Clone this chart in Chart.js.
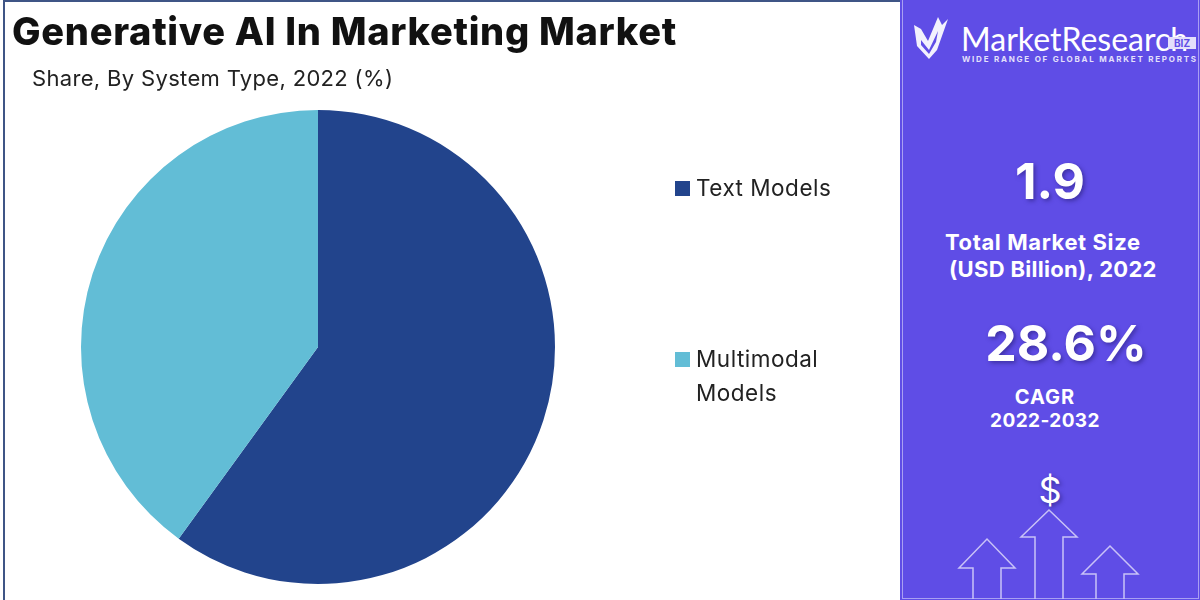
<!DOCTYPE html>
<html lang="en">
<head>
<meta charset="UTF-8">
<title>Generative AI In Marketing Market</title>
<script src="https://cdn.jsdelivr.net/npm/chart.js"></script>
<style>
    html, body { margin: 0; padding: 0; background: #fff; }
    #page { position: relative; width: 1200px; height: 600px; overflow: hidden; font-family: Inter, sans-serif; color: #111; }
    #page div.t { position: absolute; white-space: nowrap; }
    #frame { position: absolute; left: 3px; top: 0; width: 897px; height: 600px; box-sizing: border-box; border-left: 2px solid #3f5586; border-top: 2px solid #3f5586; }
    #pie { position: absolute; left: 0; top: 0; }
    #panel { position: absolute; left: 900px; top: 0; width: 300px; height: 600px; background: #5f4de6; }
    #panel-line { position: absolute; left: 902px; top: 0; width: 297px; height: 599px; box-sizing: border-box; border-left: 1px solid #a99ff2; border-bottom: 1px solid #a99ff2; border-right: 1px solid #a99ff2; }
    .swatch { position: absolute; width: 15px; height: 15px; }
    .white { color: #fff; font-weight: 700; text-align: center; }
    .big { text-shadow: 2px 2px 4px rgba(40,30,120,.6); }
    #art { position: absolute; left: 900px; top: 0; }
</style>
</head>
<body>
<div id="page">
    <div id="frame"></div>
    <canvas id="pie" width="900" height="600" style="width:900px;height:600px"></canvas>
    <div class="t" style="left:12px;top:9px;font-size:38px;font-weight:800;letter-spacing:0.7px;line-height:44px">Generative AI In Marketing Market</div>
    <div class="t" style="left:32px;top:63px;font-size:22px;letter-spacing:0.33px;line-height:30px;color:#222">Share, By System Type, 2022 (%)</div>
    <div id="legend"></div>

    <div id="panel"></div>
    <div id="panel-line"></div>
    <svg id="art" width="300" height="600" fill="none">
        <!-- logo -->
        <path d="M14 25 L21 29 L28 41 L38 17 L42 25 L48 19 L37 50 L29 59 L17 46 Z" fill="#fff" opacity=".92"/>
        <path d="M21 40 L29 50 L38 31 L36 42 L29 54 L21 45 Z" fill="#5f4de6"/>
        <!-- arrows -->
        <g stroke="#c9c2f7" stroke-width="1.5">
            <path d="M73 599 V568 H59 L87 539 L115 568 H101 V599"/>
            <path d="M135 599 V537 H121 L149 510 L177 537 H163 V599"/>
            <path d="M196 599 V574 H182 L210 546 L238 574 H224 V599"/>
        </g>
    </svg>
    <div class="t" style="left:961px;top:21px;font-family:Lato,sans-serif;font-size:32px;font-weight:400;line-height:36px;color:#fff" id="logo-text">MarketResearch</div>
    <div class="t" style="left:1168px;top:37px;width:28px;height:12px;background:#e4e0fb;color:#5f4de6;font-size:10px;font-weight:700;line-height:12px;text-align:center">BIZ</div>
    <div class="t" style="left:962px;top:54px;font-size:8px;font-weight:700;letter-spacing:1.77px;line-height:11px;color:#e4e0fb">WIDE RANGE OF GLOBAL MARKET REPORTS</div>

    <div class="t white big" style="left:950px;width:200px;top:151px;font-size:50px;line-height:60px">1.9</div>
    <div class="t white" style="left:945px;top:228px;font-size:22px;letter-spacing:0.6px;line-height:28px">Total Market Size</div>
    <div class="t white" style="left:949px;top:255px;font-size:22px;letter-spacing:0.3px;line-height:28px">(USD Billion), 2022</div>
    <div class="t white big" style="left:966px;width:200px;top:313px;font-size:50px;line-height:60px">28.6%</div>
    <div class="t white" style="left:945px;width:200px;top:384px;font-size:20px;letter-spacing:1px;line-height:26px">CAGR</div>
    <div class="t white" style="left:945px;width:200px;top:408px;font-size:19px;letter-spacing:0.4px;line-height:26px">2022-2032</div>
    <div class="t white big" style="left:1000px;width:100px;top:468px;font-size:36px;line-height:44px;font-weight:400">$</div>
</div>

<script>
    const categories = ['Text Models', 'Multimodal Models'];
    const shares = [60, 40];
    const colors = ['#22448c', '#62bdd6'];

    // legenda em HTML porque a segunda entrada quebra em duas linhas
    const legendLines = [['Text Models'], ['Multimodal', 'Models']];
    const legendTops = [173, 344];
    const legend = document.getElementById('legend');
    categories.forEach((c, i) => {
        const sw = document.createElement('div');
        sw.className = 'swatch';
        sw.style.cssText = `left:675px;top:${legendTops[i] + 8}px;background:${colors[i]}`;
        legend.appendChild(sw);
        legendLines[i].forEach((line, j) => {
            const t = document.createElement('div');
            t.className = 't';
            t.textContent = line;
            t.style.cssText = `left:696px;top:${legendTops[i] + j * 34}px;font-size:22.5px;letter-spacing:0.5px;line-height:30px;color:#222`;
            legend.appendChild(t);
        });
    });

    new Chart(document.getElementById('pie').getContext('2d'), {
        type: 'pie',
        data: {
            labels: categories,
            datasets: [{ data: shares, backgroundColor: colors, borderWidth: 0 }]
        },
        options: {
            responsive: false,
            animation: false,
            layout: { padding: { left: 81, right: 345, top: 110, bottom: 16 } },
            plugins: { legend: { display: false }, tooltip: { enabled: false } }
        }
    });
</script>
</body>
</html>
